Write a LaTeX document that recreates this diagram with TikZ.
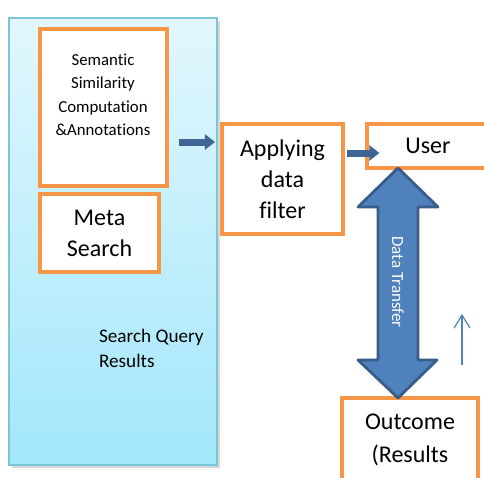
\documentclass[tikz,border=0pt]{standalone}
\usepackage{fontspec}
\setmainfont{Carlito}[Ligatures=CommonOff]
\usetikzlibrary{arrows.meta}
\definecolor{boxorange}{HTML}{F79646}
\definecolor{panelline}{HTML}{7CC5D6}
\definecolor{paneltop}{HTML}{E2F7FD}
\definecolor{panelbot}{HTML}{A2E7FB}
\definecolor{bigfill}{HTML}{4F81BD}
\definecolor{bigline}{HTML}{385D8A}
\definecolor{smallblue}{HTML}{3E6593}
\begin{document}
\begin{tikzpicture}[x=.5pt,y=-.5pt,
		obox/.style={draw=boxorange,line width=1.6pt,fill=white,inner sep=0pt},
		smallarr/.style={draw=smallblue,line width=3.5pt,-{Triangle[length=5pt,width=7.5pt]}}]
		\clip (0,0) rectangle (484,478);
		\fill[white] (0,0) rectangle (484,478);
		
		% left panel
		\fill[black!30,opacity=.5] (12,21) rectangle (220,468);
		\shade[top color=paneltop,bottom color=panelbot] (9,18) rectangle (217,465);
		\draw[panelline,line width=.8pt] (9,18) rectangle (217,465);
		
		\node[obox,minimum width=63.5pt,minimum height=78.5pt] (sem) at (103.5,107.5) {};
		\node[align=center,font=\fontsize{8.4}{11.75}\selectfont] (semtext) at (103,95) {Semantic\\Similarity\\Computation\\\&Annotations};
		\node[obox,minimum width=59.5pt,minimum height=39pt,align=center,font=\fontsize{12}{15.5}\selectfont] (meta) at (99.5,233) {Meta\\Search};
		\node[anchor=west,align=left,font=\fontsize{9.6}{12.5}\selectfont] (sqr) at (92,348.5) {Search Query\\Results};
		
		% right part
		\node[obox,minimum width=60.5pt,minimum height=55pt,align=center,font=\fontsize{12}{15.5}\selectfont] (filter) at (282.5,179) {Applying\\data\\filter};
		\node[obox,minimum width=61pt,minimum height=22pt,font=\fontsize{12}{15.5}\selectfont] (user) at (428,146) {User};
		\node[obox,minimum width=68pt,minimum height=41.5pt,align=center,font=\fontsize{12}{16.5}\selectfont] (outcome) at (410,439.5) {Outcome\\(Results};
		
		\coordinate (a1) at (179,142); \coordinate (b1) at (215,142);
		\draw[smallarr] (a1) -- (b1);
		\coordinate (a2) at (347,153); \coordinate (b2) at (user.west |- a2);
		\draw[smallarr] (a2) -- ([xshift=7]b2);
		
		% data transfer
		\draw[fill=bigfill,draw=bigline,line width=1.4pt,line join=round]
			(398,168) -- (438,207) -- (418,207) -- (418,360) -- (437,360) -- (398,398)
			-- (358,360) -- (378,360) -- (378,207) -- (358,207) -- cycle;
		\node[rotate=-90,text=white,font=\fontsize{8.5}{10}\selectfont] (dt) at (398,282) {Data Transfer};
		
		\coordinate (t1) at (462,365); \coordinate (t2) at (462,314);
		\draw[bigfill,line width=.6pt,-{Straight Barb[length=6.5pt,width=8pt]}] (t1) -- (t2);
		\end{tikzpicture}
\end{document}
